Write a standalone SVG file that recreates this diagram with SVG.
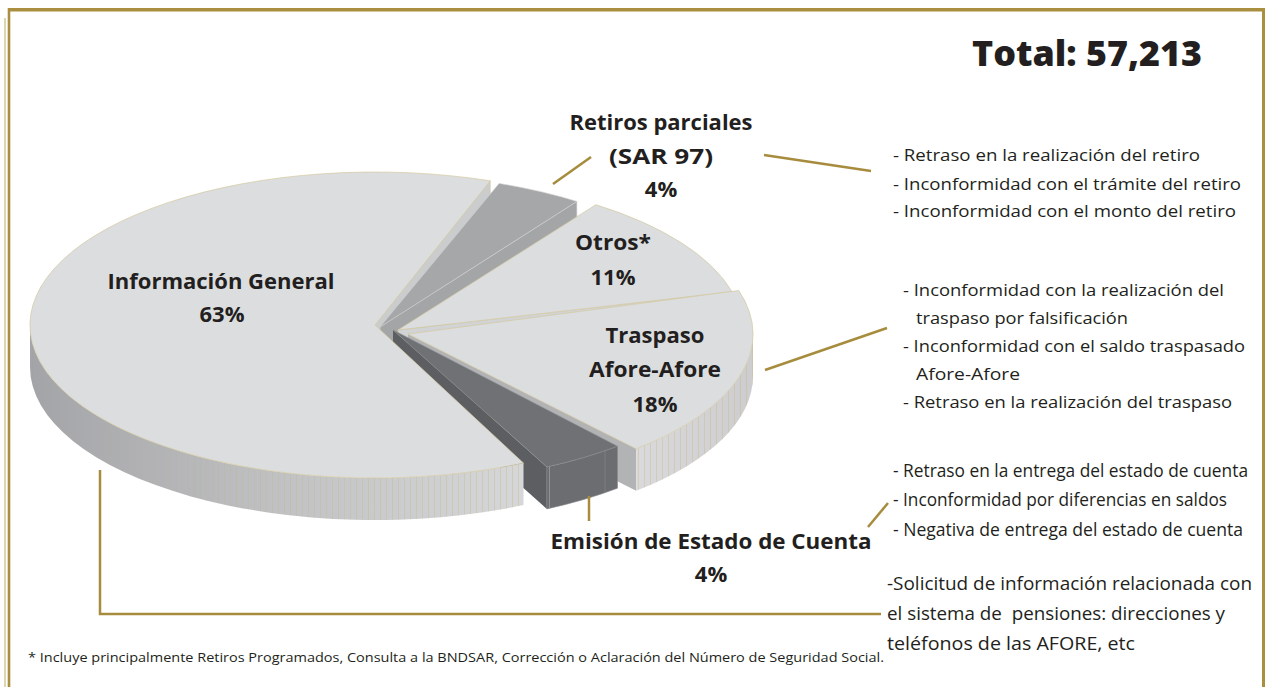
<svg xmlns="http://www.w3.org/2000/svg" width="1267" height="687" viewBox="0 0 1267 687">
<style>
.lbl{font-family:"Open Sans","Noto Sans","Liberation Sans",sans-serif;font-weight:700;font-size:22px;fill:#231f20;text-anchor:middle}
.itm{font-family:"Open Sans","Noto Sans","Liberation Sans",sans-serif;font-weight:400;font-size:16px;fill:#231f20}
.cnd{font-family:"Open Sans","Noto Sans","Liberation Sans",sans-serif;font-weight:400;font-size:18px;fill:#231f20}
.ttl{font-family:"Open Sans","Noto Sans","Liberation Sans",sans-serif;font-weight:800;font-size:35px;fill:#231f20}
.foot{font-family:"Open Sans","Noto Sans","Liberation Sans",sans-serif;font-size:13px;fill:#231f20}
.lead{fill:none;stroke:#a68c3c;stroke-width:2.5}
.rim{stroke:#d3c89f;stroke-width:0.7;stroke-linejoin:round}
.top{fill:#dcdddf}
</style>
<defs>
<linearGradient id="gInfo" gradientUnits="userSpaceOnUse" x1="30" y1="0" x2="524" y2="0">
<stop offset="0" stop-color="#a3a4a7"/><stop offset="0.5" stop-color="#c0c1c3"/><stop offset="1" stop-color="#d6d7d9"/>
</linearGradient>
<linearGradient id="gTras" gradientUnits="userSpaceOnUse" x1="636" y1="0" x2="753" y2="0">
<stop offset="0" stop-color="#dadadc"/><stop offset="1" stop-color="#cdcdcf"/>
</linearGradient>
<linearGradient id="stripeFade" gradientUnits="userSpaceOnUse" x1="30" y1="0" x2="523" y2="0">
<stop offset="0" stop-color="#fff" stop-opacity="0"/><stop offset="0.3" stop-color="#fff" stop-opacity="0.5"/><stop offset="1" stop-color="#fff" stop-opacity="1"/>
</linearGradient>
<mask id="fadeMask"><rect x="0" y="0" width="1267" height="687" fill="url(#stripeFade)"/></mask>
<pattern id="stripes" patternUnits="userSpaceOnUse" width="6" height="10">
<rect x="2" y="0" width="0.7" height="10" fill="#c4b070" opacity="0.45"/>
</pattern>
</defs>

<g id="border" fill="none">
<line x1="5" y1="18" x2="5" y2="687" stroke="#d9cb9e" stroke-width="1.6"/>
<line x1="9" y1="8" x2="9" y2="687" stroke="#a98f3f" stroke-width="2.6"/>
<line x1="8" y1="9.8" x2="1265" y2="9.8" stroke="#a98f3f" stroke-width="3.6"/>
<line x1="1263.5" y1="8" x2="1263.5" y2="687" stroke="#a98f3f" stroke-width="3"/>
</g>

<g id="title"><text class="ttl" x="972" y="66" textLength="230" lengthAdjust="spacingAndGlyphs">Total: 57,213</text></g>

<g id="pie">
<polygon id="info-cut" points="375,325 490.2,180.8 490.2,222.8 375,367" fill="#cbccce" class="rim"/>
<g id="slice-sar">
<polygon points="380,327 576.9,201.4 576.9,243.4 380,369" fill="#a4a5a7" stroke="#d2d2d2" stroke-width="0.6"/>
<path d="M380,327 L499.1,183.4 A345,153 0 0 1 576.9,201.4 Z" fill="#a6a7a9" stroke="#cfcfcf" stroke-width="0.6"/>
</g>
<g id="slice-otros">
<polygon points="398,330 732,291.7 732,333.7 398,372" fill="#d2d3d5" class="rim"/>
<path d="M398,330 L595.9,204.7 A345,153 0 0 1 732,291.7 Z" class="top rim"/>
</g>
<g id="slice-traspaso">
<polygon points="408,334 636.2,448.8 636.2,490.8 408,376" fill="#b2b3b5"/>
<path d="M753,334 A345,153 0 0 1 636.2,448.8 L636.2,490.8 A345,153 0 0 0 753,376 Z" fill="url(#gTras)"/>
<path d="M753,334 A345,153 0 0 1 636.2,448.8 L636.2,490.8 A345,153 0 0 0 753,376 Z" fill="url(#stripes)"/>
<path d="M408,334 L738.8,290.5 A345,153 0 0 1 636.2,448.8 Z" class="top rim"/>
</g>
<g id="slice-emision">
<polygon points="393,330 546.9,466.9 546.9,508.9 393,372" fill="#5d5e61"/>
<path d="M617.5,446.2 A345,153 0 0 1 546.9,466.9 L546.9,508.9 A345,153 0 0 0 617.5,488.2 Z" fill="#6c6d70" stroke="#8a8b8e" stroke-width="0.6"/>
<line x1="549.5" y1="467" x2="549.5" y2="508.5" stroke="#9c9da0" stroke-width="0.8"/>
<line x1="605" y1="450.5" x2="605" y2="492" stroke="#838487" stroke-width="0.8"/>
<path d="M393,330 L617.5,446.2 A345,153 0 0 1 546.9,466.9 Z" fill="#707174" stroke="#8d8e91" stroke-width="0.6"/>
</g>
<g id="slice-info">
<path d="M523.5,463.1 A345,153 0 0 1 30,325 L30,367 A345,153 0 0 0 523.5,505.1 Z" fill="url(#gInfo)"/>
<path d="M523.5,463.1 A345,153 0 0 1 30,325 L30,367 A345,153 0 0 0 523.5,505.1 Z" fill="url(#stripes)" mask="url(#fadeMask)"/>
<path d="M375,325 L523.5,463.1 A345,153 0 1 1 490.2,180.8 Z" class="top rim"/>
</g>
</g>

<g id="connectors">
<line class="lead" x1="553" y1="184" x2="591" y2="157"/>
<line class="lead" x1="764" y1="155" x2="871" y2="171"/>
<line class="lead" x1="765" y1="370" x2="887" y2="328"/>
<line class="lead" x1="589" y1="496" x2="589" y2="521"/>
<line class="lead" x1="868" y1="527" x2="888" y2="503"/>
<polyline class="lead" points="100,470 100,614 881,614"/>
</g>

<g id="node-info">
<text class="lbl" x="221" y="289" textLength="227" lengthAdjust="spacingAndGlyphs">Información General</text>
<text class="lbl" x="222" y="322">63%</text>
<text class="cnd" x="887" y="590" textLength="365" lengthAdjust="spacingAndGlyphs">-Solicitud de información relacionada con</text>
<text class="cnd" x="887" y="620" textLength="338" lengthAdjust="spacingAndGlyphs" xml:space="preserve">el sistema de  pensiones: direcciones y</text>
<text class="cnd" x="887" y="650" textLength="248" lengthAdjust="spacingAndGlyphs">teléfonos de las AFORE, etc</text>
</g>

<g id="node-sar">
<text class="lbl" x="661" y="130" textLength="183" lengthAdjust="spacingAndGlyphs">Retiros parciales</text>
<text class="lbl" x="661" y="164" textLength="104" lengthAdjust="spacingAndGlyphs">(SAR 97)</text>
<text class="lbl" x="661" y="197">4%</text>
<text class="itm" x="893" y="161" textLength="307" lengthAdjust="spacingAndGlyphs">- Retraso en la realización del retiro</text>
<text class="itm" x="893" y="190" textLength="348" lengthAdjust="spacingAndGlyphs">- Inconformidad con el trámite del retiro</text>
<text class="itm" x="893" y="217" textLength="343" lengthAdjust="spacingAndGlyphs">- Inconformidad con el monto del retiro</text>
</g>

<g id="node-otros">
<text class="lbl" x="613" y="250" textLength="76" lengthAdjust="spacingAndGlyphs">Otros*</text>
<text class="lbl" x="613" y="285">11%</text>
</g>

<g id="node-traspaso">
<text class="lbl" x="655" y="343" textLength="99" lengthAdjust="spacingAndGlyphs">Traspaso</text>
<text class="lbl" x="655" y="377" textLength="132" lengthAdjust="spacingAndGlyphs">Afore-Afore</text>
<text class="lbl" x="655" y="412">18%</text>
<text class="itm" x="903" y="296" textLength="321" lengthAdjust="spacingAndGlyphs">- Inconformidad con la realización del</text>
<text class="itm" x="916" y="324" textLength="212" lengthAdjust="spacingAndGlyphs">traspaso por falsificación</text>
<text class="itm" x="903" y="352" textLength="342" lengthAdjust="spacingAndGlyphs">- Inconformidad con el saldo traspasado</text>
<text class="itm" x="916" y="380" textLength="104" lengthAdjust="spacingAndGlyphs">Afore-Afore</text>
<text class="itm" x="903" y="408" textLength="329" lengthAdjust="spacingAndGlyphs">- Retraso en la realización del traspaso</text>
</g>

<g id="node-emision">
<text class="lbl" x="711" y="549" textLength="321" lengthAdjust="spacingAndGlyphs">Emisión de Estado de Cuenta</text>
<text class="lbl" x="711" y="582">4%</text>
<text class="cnd" x="893" y="477" textLength="355" lengthAdjust="spacingAndGlyphs">- Retraso en la entrega del estado de cuenta</text>
<text class="cnd" x="893" y="506" textLength="334" lengthAdjust="spacingAndGlyphs">- Inconformidad por diferencias en saldos</text>
<text class="cnd" x="893" y="536" textLength="350" lengthAdjust="spacingAndGlyphs">- Negativa de entrega del estado de cuenta</text>
</g>

<g id="footnote">
<text class="foot" x="28" y="662" textLength="856" lengthAdjust="spacingAndGlyphs">* Incluye principalmente Retiros Programados, Consulta a la BNDSAR, Corrección o Aclaración del Número de Seguridad Social.</text>
</g>
</svg>
